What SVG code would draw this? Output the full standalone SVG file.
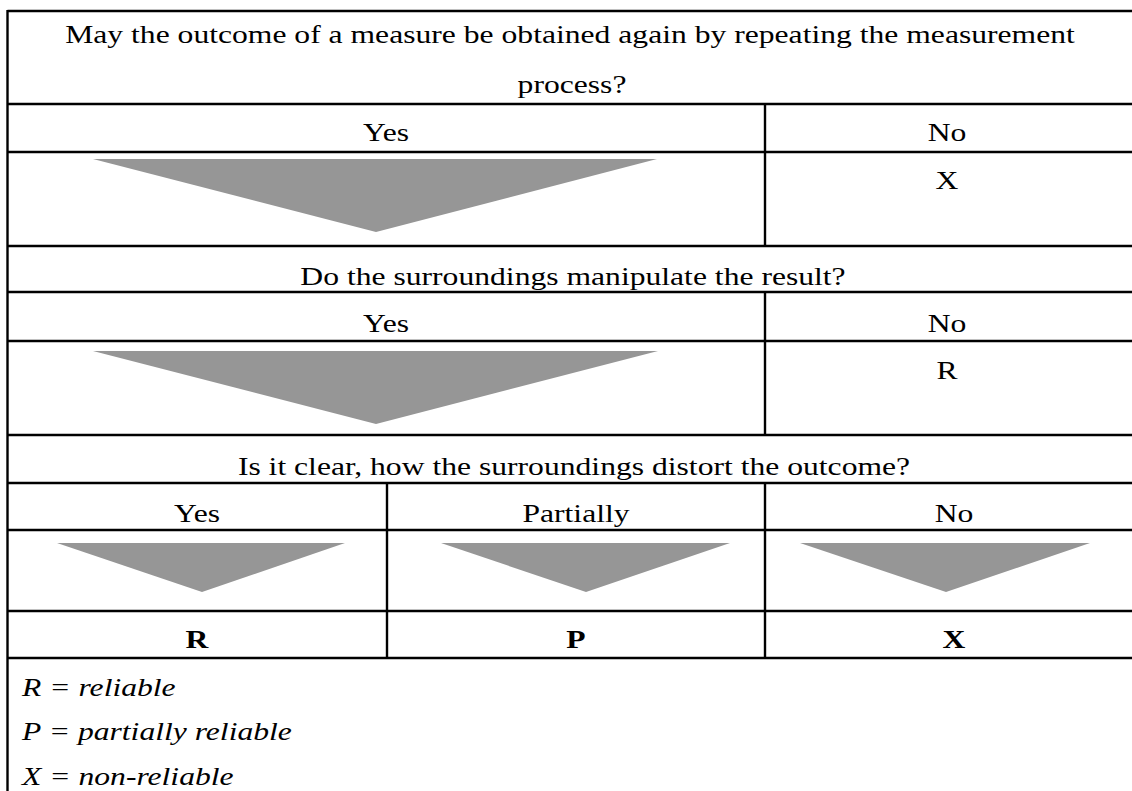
<svg xmlns="http://www.w3.org/2000/svg" width="1132" height="791" viewBox="0 0 1132 791">
  <style>
    text { font-family: "Liberation Serif", "Times New Roman", serif; font-size: 25px; fill: #000; }
    .c { text-anchor: middle; }
    .b { font-weight: bold; }
    .i { font-style: italic; }
    .rule { stroke: #000; stroke-width: 2.4; fill: none; }
    .arrow { fill: #969696; }
  </style>
  <rect width="1132" height="791" fill="#fff"/>

  <!-- table rules -->
  <g id="grid" class="rule">
    <line x1="7.5" y1="11" x2="1132" y2="11"/>
    <line x1="7.5" y1="104" x2="1132" y2="104"/>
    <line x1="7.5" y1="152" x2="1132" y2="152"/>
    <line x1="7.5" y1="246" x2="1132" y2="246"/>
    <line x1="7.5" y1="292" x2="1132" y2="292"/>
    <line x1="7.5" y1="341" x2="1132" y2="341"/>
    <line x1="7.5" y1="435" x2="1132" y2="435"/>
    <line x1="7.5" y1="483" x2="1132" y2="483"/>
    <line x1="7.5" y1="530" x2="1132" y2="530"/>
    <line x1="7.5" y1="611" x2="1132" y2="611"/>
    <line x1="7.5" y1="658" x2="1132" y2="658"/>
    <line x1="7.5" y1="10" x2="7.5" y2="791"/>
    <line x1="765" y1="104" x2="765" y2="246"/>
    <line x1="765" y1="292" x2="765" y2="435"/>
    <line x1="765" y1="483" x2="765" y2="658"/>
    <line x1="387" y1="483" x2="387" y2="658"/>
  </g>

  <!-- connectors: downward arrows -->
  <g id="connectors" class="arrow">
    <polygon points="93,159 657,159 376,232"/>
    <polygon points="93,351 658,351 376,424"/>
    <polygon points="57,543 345,543 202,592"/>
    <polygon points="441,543 730,543 586,592"/>
    <polygon points="800,543 1090,543 946,592"/>
  </g>

  <!-- text is set wide: each label is stretched horizontally about its anchor -->
  <g id="q1">
    <text class="c" transform="translate(570 43) scale(1.265 1)">May the outcome of a measure be obtained again by repeating the measurement</text>
    <text class="c" transform="translate(572 93) scale(1.265 1)">process?</text>
  </g>
  <g id="q1-yes"><text class="c" transform="translate(386 141) scale(1.265 1)">Yes</text></g>
  <g id="q1-no"><text class="c" transform="translate(947 141) scale(1.265 1)">No</text></g>
  <g id="q1-result"><text class="c" transform="translate(947 189) scale(1.265 1)">X</text></g>

  <g id="q2"><text class="c" transform="translate(573 285) scale(1.265 1)">Do the surroundings manipulate the result?</text></g>
  <g id="q2-yes"><text class="c" transform="translate(386 332) scale(1.265 1)">Yes</text></g>
  <g id="q2-no"><text class="c" transform="translate(947 332) scale(1.265 1)">No</text></g>
  <g id="q2-result"><text class="c" transform="translate(947 379) scale(1.265 1)">R</text></g>

  <g id="q3"><text class="c" transform="translate(574 475) scale(1.265 1)">Is it clear, how the surroundings distort the outcome?</text></g>
  <g id="q3-yes"><text class="c" transform="translate(197 522) scale(1.265 1)">Yes</text></g>
  <g id="q3-partially"><text class="c" transform="translate(576 522) scale(1.265 1)">Partially</text></g>
  <g id="q3-no"><text class="c" transform="translate(954 522) scale(1.265 1)">No</text></g>
  <g id="result-r"><text class="c b" transform="translate(197 648) scale(1.265 1)">R</text></g>
  <g id="result-p"><text class="c b" transform="translate(576 648) scale(1.265 1)">P</text></g>
  <g id="result-x"><text class="c b" transform="translate(954 648) scale(1.265 1)">X</text></g>

  <g id="legend">
    <text class="i" transform="translate(22 696) scale(1.265 1)">R = reliable</text>
    <text class="i" transform="translate(22 740) scale(1.265 1)">P = partially reliable</text>
    <text class="i" transform="translate(22 785) scale(1.265 1)">X = non-reliable</text>
  </g>
</svg>
